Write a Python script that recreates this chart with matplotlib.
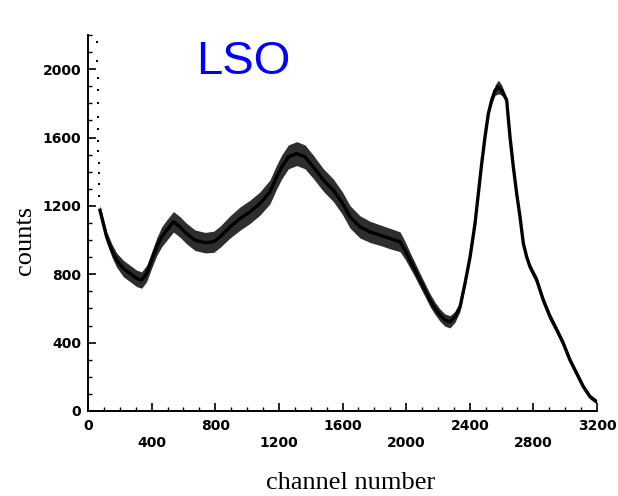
import matplotlib
matplotlib.use("Agg")
import matplotlib.pyplot as plt
from matplotlib.ticker import MultipleLocator

# ---- data (channel, counts) ----
channel = [75, 96, 117, 149, 180, 222, 264, 306, 337, 369, 400, 432, 463, 495,
           537, 578, 620, 673, 736, 790, 830, 893, 956, 1018, 1081, 1144, 1186,
           1218, 1260, 1312, 1364, 1417, 1480, 1542, 1600, 1647, 1710, 1773,
           1836, 1899, 1962, 1993, 2024, 2056, 2087, 2119, 2150, 2182, 2213,
           2244, 2276, 2307, 2339, 2370, 2402, 2433, 2454, 2475, 2496, 2517,
           2538, 2559, 2580, 2601, 2622, 2632, 2653, 2674, 2695, 2716, 2737,
           2758, 2779, 2821, 2862, 2905, 2947, 2988, 3030, 3072, 3114, 3156, 3198]
counts = [1175, 1097, 1019, 941, 883, 834, 805, 776, 766, 805, 883, 961, 1019, 1058,
          1107, 1077, 1038, 999, 985, 990, 1019, 1077, 1126, 1165, 1214, 1282, 1370,
          1428, 1487, 1506, 1487, 1428, 1351, 1292, 1215, 1136, 1077, 1048,
          1029, 1009, 990, 941, 883, 825, 766, 707, 649, 600, 561,
          532, 522, 551, 610, 746, 901, 1096, 1272, 1447, 1604, 1740,
          1819, 1877, 1896, 1877, 1838, 1819, 1604, 1428, 1272, 1136, 980,
          901, 843, 766, 649, 551, 474, 396, 298, 220, 142, 84, 54]
# scatter half-width of the noisy band (counts)
spread = [30, 30, 32, 38, 42, 48, 48, 48, 48, 48, 48, 52, 58, 60,
          60, 60, 60, 60, 60, 62, 62, 65, 68, 68, 68, 70, 70,
          70, 70, 70, 70, 68, 66, 66, 66, 66, 65, 62,
          60, 60, 58, 52, 46, 42, 40, 38, 38, 36, 36,
          36, 36, 32, 28, 20, 14, 12, 12, 12, 12, 12,
          20, 30, 40, 30, 20, 14, 12, 12, 12, 14, 16,
          18, 20, 22, 22, 22, 20, 20, 18, 18, 16, 14, 12]
# sparse points of the low-channel spike
spike_channel = [58, 59, 60, 61, 62, 63, 64, 65, 66, 67, 68, 70, 72]
spike_counts = [2160, 2050, 1950, 1880, 1800, 1720, 1650, 1580, 1520, 1450, 1390, 1330, 1260]

xticks = [0, 400, 800, 1200, 1600, 2000, 2400, 2800, 3200]
yticks = [0, 400, 800, 1200, 1600, 2000]

fig = plt.figure(figsize=(6.18, 4.96), dpi=100)
ax = fig.add_axes([88/618, 1-411/496, (597-88)/618, (411-35)/496])

lo = [c - s for c, s in zip(counts, spread)]
hi = [c + s for c, s in zip(counts, spread)]
ax.fill_between(channel, lo, hi, color='black', alpha=0.82, lw=0)
ax.plot(channel, counts, color='black', lw=2.4)
ax.scatter(spike_channel, spike_counts, s=3, marker='s', color='black', lw=0)

ax.set_xlim(0, 3200)
ax.set_ylim(0, 2200)
for side in ('top', 'right'):
    ax.spines[side].set_visible(False)
for side in ('left', 'bottom'):
    ax.spines[side].set_linewidth(1.4)

tick_font = dict(family='DejaVu Sans', weight='bold', fontsize=10)
ax.set_xticks(xticks)
ax.set_xticklabels([str(t) if i % 2 == 0 else '\n' + str(t) for i, t in enumerate(xticks)],
                   linespacing=1.25, **tick_font)
ax.set_yticks(yticks)
ax.set_yticklabels([str(t) for t in yticks], **tick_font)
ax.xaxis.set_minor_locator(MultipleLocator(100))
ax.yaxis.set_minor_locator(MultipleLocator(100))
ax.tick_params(which='major', direction='in', length=6, width=1.2)
ax.tick_params(which='minor', direction='in', length=3, width=1.0)
ax.tick_params(axis='x', which='major', pad=6)
ax.tick_params(axis='y', which='major', pad=5)

ax.set_xlabel('channel number', family='Liberation Serif', fontsize=19)
ax.xaxis.set_label_coords((351-88)/509, -(483-411)/376)
ax.xaxis.label.set_va('center')
ax.set_ylabel('counts', family='Liberation Serif', fontsize=19)
ax.yaxis.set_label_coords(-(88-25)/509, (411-240)/376)
ax.yaxis.label.set_va('center')

ax.text((243-88)/509, (411-62)/376, 'LSO', color='#0000ff', family='Liberation Sans',
        fontsize=34, ha='center', va='center', transform=ax.transAxes)

fig.savefig('out.png', dpi=100)
